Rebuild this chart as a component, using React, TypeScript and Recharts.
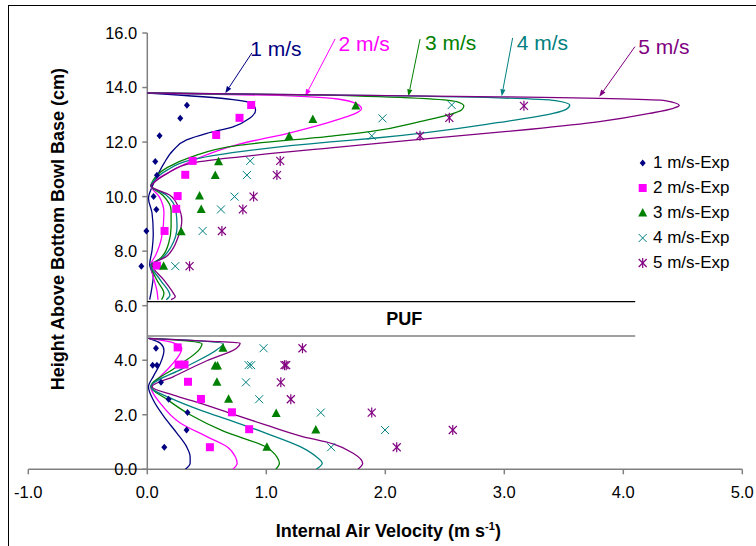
import React from 'react';
import { ScatterChart, Scatter, XAxis, YAxis, ReferenceLine, ReferenceDot } from 'recharts';

// --- data: [velocity (m/s), height (cm)] ---

const speedNames = ['1 m/s', '2 m/s', '3 m/s', '4 m/s', '5 m/s'];
const expNames = ['1 m/s-Exp', '2 m/s-Exp', '3 m/s-Exp', '4 m/s-Exp', '5 m/s-Exp'];
const xTicks = [-1, 0, 1, 2, 3, 4, 5];
const yTicks = [0, 2, 4, 6, 8, 10, 12, 14, 16];

// model profiles above the PUF layer (top -> bottom)
const model1Upper = [[0, 13.8], [0.72, 13.56], [0.88, 13.42], [0.91, 13.18], [0.86, 12.87], [0.72, 12.56], [0.5, 12.32], [0.33, 12.08], [0.22, 11.71], [0.14, 11.22], [0.08, 10.73], [0.04, 10.36], [0.01, 9.94], [0.04, 9.39], [0.05, 8.65], [0.04, 8.04], [0.02, 7.5], [0.05, 7.06], [0.04, 6.7], [0.02, 6.22]];
const model2Upper = [[0, 13.8], [1.0, 13.72], [1.6, 13.58], [1.76, 13.4], [1.8, 13.22], [1.75, 13.05], [1.62, 12.85], [1.2, 12.34], [0.78, 11.93], [0.39, 11.34], [0.22, 10.98], [0.07, 10.6], [0.03, 10.4], [0.1, 10.0], [0.14, 9.4], [0.12, 8.5], [0.07, 7.85], [0.03, 7.5], [0.05, 7.06], [0.08, 6.57], [0.09, 6.22]];
const model3Upper = [[0, 13.8], [1.5, 13.72], [2.6, 13.48], [2.66, 13.32], [2.64, 13.18], [2.29, 12.75], [1.87, 12.38], [1.55, 12.22], [0.78, 11.89], [0.36, 11.44], [0.17, 11.07], [0.05, 10.61], [0.03, 10.4], [0.13, 10.05], [0.2, 9.5], [0.2, 8.9], [0.18, 8.3], [0.1, 7.7], [0.03, 7.5], [0.08, 6.94], [0.14, 6.45], [0.12, 6.22]];
const model4Upper = [[0, 13.8], [2.0, 13.7], [3.43, 13.52], [3.55, 13.36], [3.52, 13.2], [3.41, 13.05], [2.96, 12.72], [1.9, 12.14], [1.54, 12.01], [0.78, 11.65], [0.36, 11.34], [0.17, 10.98], [0.05, 10.55], [0.03, 10.4], [0.16, 10.05], [0.24, 9.5], [0.25, 8.9], [0.2, 8.16], [0.11, 7.7], [0.03, 7.5], [0.11, 6.94], [0.19, 6.38], [0.16, 6.22]];
const model5Upper = [[0, 13.8], [2.96, 13.66], [4.35, 13.52], [4.47, 13.34], [4.42, 13.24], [4.22, 13.05], [3.8, 12.75], [3.22, 12.47], [2.29, 12.1], [1.54, 11.79], [0.78, 11.46], [0.36, 11.22], [0.17, 10.85], [0.05, 10.49], [0.03, 10.4], [0.19, 10.05], [0.26, 9.63], [0.29, 9.14], [0.26, 8.53], [0.16, 7.8], [0.04, 7.5], [0.14, 6.94], [0.22, 6.45], [0.235, 6.33], [0.2, 6.22]];

// model profiles below the PUF layer
const model1Lower = [[0.01, 4.8], [0.11, 4.62], [0.14, 4.37], [0.11, 3.89], [0.05, 3.4], [0.01, 3.03], [0.05, 2.54], [0.14, 1.93], [0.25, 1.32], [0.33, 0.83], [0.36, 0.46], [0.36, 0.22], [0.32, 0]];
const model2Lower = [[0.01, 4.8], [0.22, 4.64], [0.29, 4.44], [0.19, 3.76], [0.08, 3.27], [0.03, 3.03], [0.11, 2.42], [0.28, 1.69], [0.5, 1.2], [0.67, 0.83], [0.74, 0.46], [0.755, 0.22], [0.72, 0]];
const model3Lower = [[0.01, 4.8], [0.35, 4.7], [0.46, 4.6], [0.445, 4.44], [0.24, 3.74], [0.03, 3.03], [0.17, 2.55], [0.36, 2.0], [0.64, 1.4], [1.0, 0.81], [1.09, 0.45], [1.11, 0.22], [1.08, 0]];
const model4Lower = [[0.01, 4.8], [0.4, 4.72], [0.64, 4.6], [0.59, 4.4], [0.3, 3.7], [0.03, 3.03], [0.2, 2.6], [0.445, 2.17], [0.725, 1.75], [1.0, 1.32], [1.285, 0.83], [1.42, 0.46], [1.47, 0.22], [1.42, 0]];
const model5Lower = [[0.01, 4.8], [0.5, 4.7], [0.78, 4.63], [0.75, 4.44], [0.5, 3.98], [0.22, 3.4], [0.04, 3.03], [0.22, 2.72], [0.45, 2.42], [0.72, 2.02], [1.0, 1.62], [1.29, 1.22], [1.56, 0.93], [1.73, 0.59], [1.81, 0.22], [1.77, 0]];

// measured points
const exp1 = [[0.333, 13.35], [0.277, 12.87], [0.103, 12.23], [0.067, 11.29], [0.081, 10.78], [0.053, 10.0], [0.076, 9.53], [-0.008, 8.74], [-0.05, 7.45], [0.073, 4.44], [0.045, 3.82], [0.081, 3.82], [0.115, 3.19], [0.179, 2.57], [0.338, 2.08], [0.33, 1.44], [0.143, 0.81]];
const exp2 = [[0.873, 13.36], [0.775, 12.89], [0.579, 12.26], [0.381, 11.31], [0.319, 10.8], [0.255, 10.02], [0.243, 9.55], [0.145, 8.74], [0.081, 7.47], [0.255, 4.47], [0.263, 3.84], [0.313, 3.84], [0.342, 3.21], [0.451, 2.58], [0.711, 2.09], [0.856, 1.47], [0.526, 0.81]];
const exp3 = [[1.752, 13.32], [1.391, 12.83], [1.192, 12.2], [0.599, 11.28], [0.571, 10.77], [0.439, 10.02], [0.453, 9.53], [0.285, 8.71], [0.137, 7.45], [0.636, 4.44], [0.57, 3.79], [0.59, 3.79], [0.585, 3.19], [0.683, 2.57], [1.083, 2.05], [1.416, 1.44], [1.005, 0.81]];
const exp4 = [[2.558, 13.36], [1.976, 12.87], [1.886, 12.23], [0.865, 11.31], [0.837, 10.79], [0.733, 10.0], [0.619, 9.53], [0.465, 8.74], [0.235, 7.45], [0.977, 4.44], [0.851, 3.82], [0.873, 3.82], [0.829, 3.19], [0.94, 2.57], [1.458, 2.08], [1.998, 1.44], [1.545, 0.81]];
const exp5 = [[3.165, 13.33], [2.538, 12.89], [2.292, 12.23], [1.117, 11.31], [1.089, 10.79], [0.893, 10.0], [0.803, 9.53], [0.627, 8.74], [0.355, 7.45], [1.304, 4.44], [1.153, 3.82], [1.167, 3.82], [1.122, 3.19], [1.206, 2.57], [1.886, 2.08], [2.567, 1.44], [2.096, 0.81]];

// callouts: label anchor and arrow [x1, y1, x2, y2]
const labelAt = [[0.865, 15.41], [1.607, 15.6], [2.334, 15.65], [3.104, 15.63], [4.125, 15.49]];
const arrowAt = [[0.879, 15.27, 0.655, 13.79], [1.578, 15.78, 1.327, 13.68], [2.292, 15.78, 2.194, 13.68], [3.07, 15.82, 2.978, 13.68], [4.098, 15.5, 3.798, 13.66]];

// PUF layer bounds
const pufTop = 6.15;
const pufBottom = 4.89;
const pufRight = 4.1;

// --- layout / style ---
const W = 756;
const H = 546;
const Y_AXIS_W = 1;
const M = { top: 33, right: 13.7, left: 28.3 - Y_AXIS_W, bottom: 0 };
const X_DOMAIN: [number, number] = [-1, 5];
const Y_DOMAIN: [number, number] = [0, 16];
const PLOT_LEFT = M.left + Y_AXIS_W;
const PLOT_W = W - PLOT_LEFT - M.right;
const ZERO_DX = (PLOT_W * (0 - X_DOMAIN[0])) / (X_DOMAIN[1] - X_DOMAIN[0]);
const FONT = '"Liberation Sans", Arial, sans-serif';
const AXIS = '#808080';
const colors = ['#000080', '#FF00FF', '#008000', '#008080', '#800080'];

const pts = (a: number[][]) => a.map(([x, y]) => ({ x, y }));
const upper = [model1Upper, model2Upper, model3Upper, model4Upper, model5Upper];
const lower = [model1Lower, model2Lower, model3Lower, model4Lower, model5Lower];
const exps = [exp1, exp2, exp3, exp4, exp5];

// markers
const Marker = ({ i, cx, cy }: { i: number; cx: number; cy: number }) => {
  const c = colors[i];
  if (i === 0) return <polygon points={`${cx},${cy - 3.5} ${cx + 3},${cy} ${cx},${cy + 3.5} ${cx - 3},${cy}`} fill={c} />;
  if (i === 1) return <rect x={cx - 4} y={cy - 4} width={8} height={8} fill={c} />;
  if (i === 2) return <polygon points={`${cx},${cy - 5} ${cx + 4.5},${cy + 3.5} ${cx - 4.5},${cy + 3.5}`} fill={c} />;
  if (i === 3)
    return (
      <g stroke={c} strokeWidth={1}>
        <line x1={cx - 4} y1={cy - 4} x2={cx + 4} y2={cy + 4} />
        <line x1={cx - 4} y1={cy + 4} x2={cx + 4} y2={cy - 4} />
      </g>
    );
  return (
    <g stroke={c} strokeWidth={1.2}>
      <line x1={cx - 4} y1={cy - 4} x2={cx + 4} y2={cy + 4} />
      <line x1={cx - 4} y1={cy + 4} x2={cx + 4} y2={cy - 4} />
      <line x1={cx} y1={cy - 5} x2={cx} y2={cy + 5} />
    </g>
  );
};

const NoDot = () => <g />;

const YTick = (props: any) => {
  const { x, y, payload } = props;
  const ax = x + ZERO_DX;
  return (
    <g>
      <line x1={ax - 5} x2={ax} y1={y} y2={y} stroke={AXIS} strokeWidth={1.5} />
      <text x={ax - 10} y={y} dy="0.36em" textAnchor="end" fontSize={16.5} fontFamily={FONT} fill="#000">
        {Number(payload.value).toFixed(1)}
      </text>
    </g>
  );
};

const arrowShape = (color: string) => (p: any) => {
  const { x1, y1, x2, y2 } = p;
  const a = Math.atan2(y2 - y1, x2 - x1);
  const L = 7;
  const hw = 2.6;
  const bx = x2 - L * Math.cos(a);
  const by = y2 - L * Math.sin(a);
  const nx = -Math.sin(a) * hw;
  const ny = Math.cos(a) * hw;
  return (
    <g>
      <line x1={x1} y1={y1} x2={bx} y2={by} stroke={color} strokeWidth={1} />
      <polygon points={`${x2},${y2} ${bx + nx},${by + ny} ${bx - nx},${by - ny}`} fill={color} />
    </g>
  );
};

const textShape = (txt: string, color: string, size: number, weight: string) => (p: any) => (
  <text x={p.cx} y={p.cy} dy="0.35em" fontSize={size} fontWeight={weight} fontFamily={FONT} fill={color}>
    {txt}
  </text>
);

export default function App() {
  return (
    <div style={{ position: 'absolute', left: 0, top: 0, width: W, height: H, overflow: 'hidden', background: '#fff' }}>
      <div
        style={{
          position: 'absolute',
          left: 7.5,
          top: 5.3,
          width: 900,
          height: 700,
          borderLeft: '1.5px solid #000',
          borderTop: '1.5px solid #000',
        }}
      />
      <div style={{ position: 'absolute', left: 0, top: 0 }}>
        <ScatterChart width={W} height={H} margin={M}>
          <XAxis
            type="number"
            dataKey="x"
            domain={X_DOMAIN}
            ticks={xTicks}
            allowDataOverflow
            height={H - M.top - 436.3}
            tickFormatter={(v: number) => v.toFixed(1)}
            axisLine={{ stroke: AXIS, strokeWidth: 1.5 }}
            tickLine={{ stroke: AXIS, strokeWidth: 1.5 }}
            tickSize={5}
            tickMargin={12}
            tick={{ fontSize: 16.5, fill: '#000', fontFamily: FONT }}
            label={(p: any) => {
              const vb = p.viewBox;
              return (
                <text x={vb.x + vb.width / 2 + 3} y={vb.y + 68} textAnchor="middle" fontSize={18} fontWeight="bold" fontFamily={FONT} fill="#000">
                  Internal Air Velocity (m s<tspan dy={-7} fontSize={11}>-1</tspan>
                  <tspan dy={7}>)</tspan>
                </text>
              );
            }}
          />
          <YAxis
            type="number"
            dataKey="y"
            domain={Y_DOMAIN}
            ticks={yTicks}
            allowDataOverflow
            width={Y_AXIS_W}
            axisLine={false}
            tickLine={false}
            tickSize={0}
            tickMargin={0}
            tick={YTick}
            label={(p: any) => {
              const vb = p.viewBox;
              const cx = PLOT_LEFT + 29;
              const cy = vb.y + vb.height / 2 - 22;
              return (
                <text x={cx} y={cy} transform={`rotate(-90, ${cx}, ${cy})`} dy="0.35em" textAnchor="middle" fontSize={18} fontWeight="bold" fontFamily={FONT} fill="#000">
                  Height Above Bottom Bowl Base (cm)
                </text>
              );
            }}
          />

          <ReferenceLine x={0} stroke={AXIS} strokeWidth={1.5} />
          <ReferenceLine segment={[{ x: 0, y: pufTop }, { x: pufRight, y: pufTop }]} stroke="#000" strokeWidth={1.2} />
          <ReferenceLine segment={[{ x: 0, y: pufBottom }, { x: pufRight, y: pufBottom }]} stroke={AXIS} strokeWidth={1.5} />
          <ReferenceDot x={2.007} y={(pufTop + pufBottom) / 2} r={0} shape={textShape('PUF', '#000', 18, 'bold')} />

          {upper.map((d, i) => (
            <Scatter
              key={`u${i}`}
              data={pts(d)}
              line={{ stroke: colors[i], strokeWidth: 1.3 }}
              lineJointType="monotoneY"
              shape={NoDot}
              isAnimationActive={false}
            />
          ))}
          {lower.map((d, i) => (
            <Scatter
              key={`l${i}`}
              data={pts(d)}
              line={{ stroke: colors[i], strokeWidth: 1.3 }}
              lineJointType="monotoneY"
              shape={NoDot}
              isAnimationActive={false}
            />
          ))}
          {exps.map((d, i) => (
            <Scatter
              key={`e${i}`}
              name={expNames[i]}
              data={pts(d)}
              fill={colors[i]}
              shape={(p: any) => <Marker i={i} cx={p.cx} cy={p.cy} />}
              isAnimationActive={false}
            />
          ))}

          {arrowAt.map((a, i) => (
            <ReferenceLine key={`a${i}`} segment={[{ x: a[0], y: a[1] }, { x: a[2], y: a[3] }]} shape={arrowShape(colors[i])} />
          ))}
          {labelAt.map((l, i) => (
            <ReferenceDot key={`t${i}`} x={l[0]} y={l[1]} r={0} shape={textShape(speedNames[i], colors[i], 21, 'normal')} />
          ))}
        </ScatterChart>
      </div>

      {/* legend */}
      <div style={{ position: 'absolute', left: 636, top: 150.8, fontFamily: FONT, fontSize: 17, color: '#000' }}>
        {expNames.map((n, i) => (
          <div key={n} style={{ height: 25, display: 'flex', alignItems: 'center' }}>
            <svg width={14} height={14} style={{ marginRight: 3 }}>
              <Marker i={i} cx={6.7} cy={7} />
            </svg>
            <span>{n}</span>
          </div>
        ))}
      </div>
    </div>
  );
}
